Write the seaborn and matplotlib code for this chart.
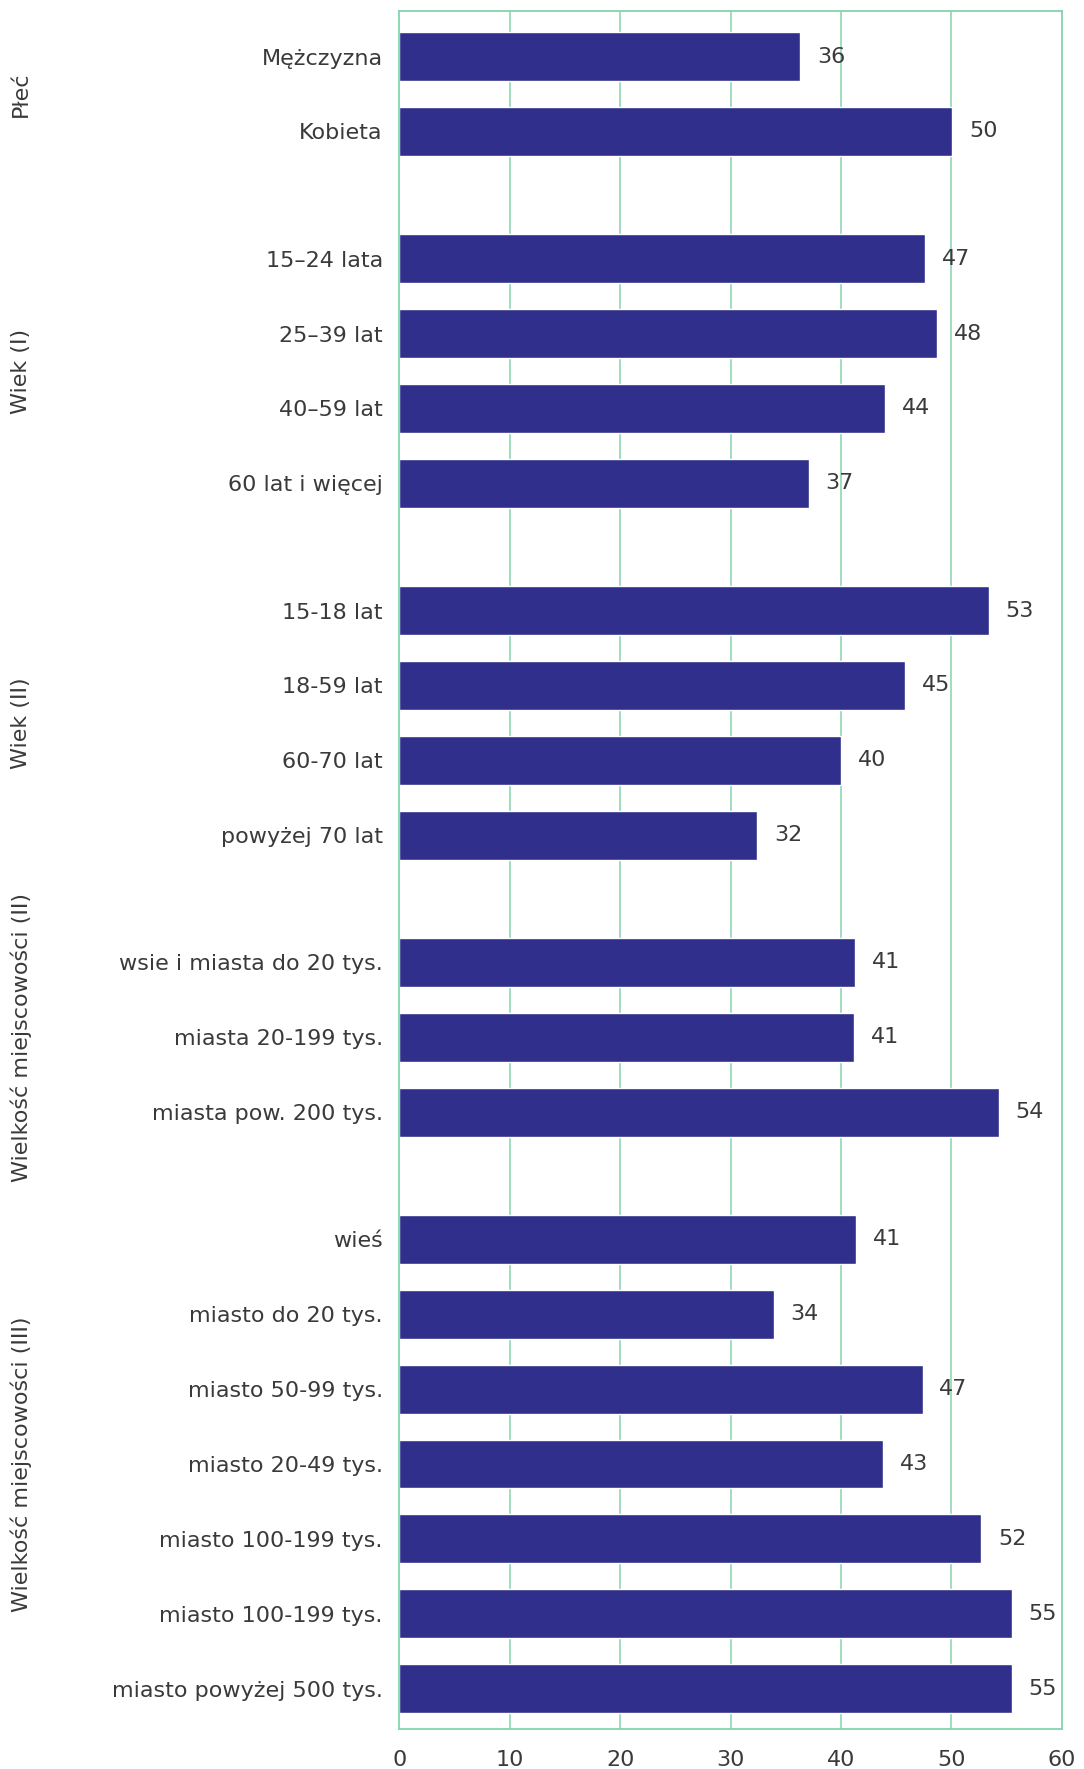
import numpy as np
import pandas as pd
import seaborn as sns
import matplotlib.pyplot as plt
import matplotlib.transforms as mtransforms

# data
categories = [
    "Mężczyzna", "Kobieta",
    "15–24 lata", "25–39 lat", "40–59 lat", "60 lat i więcej",
    "15-18 lat", "18-59 lat", "60-70 lat", "powyżej 70 lat",
    "wsie i miasta do 20 tys.", "miasta 20-199 tys.", "miasta pow. 200 tys.",
    "wieś", "miasto do 20 tys.", "miasto 50-99 tys.", "miasto 20-49 tys.",
    "miasto 100-199 tys.", "miasto 100-199 tys.", "miasto powyżej 500 tys.",
]
values = [36.3, 50.1,
          47.6, 48.7, 44.0, 37.1,
          53.4, 45.8, 40.0, 32.4,
          41.3, 41.2, 54.3,
          41.4, 33.9, 47.4, 43.8, 52.7, 55.5, 55.5]
value_labels = ["36", "50",
                "47", "48", "44", "37",
                "53", "45", "40", "32",
                "41", "41", "54",
                "41", "34", "47", "43", "52", "55", "55"]
group_names = ["Płeć", "Wiek (I)", "Wiek (II)",
               "Wielkość miejscowości (II)", "Wielkość miejscowości (III)"]
group_sizes = [2, 4, 4, 3, 7]
x_ticks = [0, 10, 20, 30, 40, 50, 60]

BAR = "#30308C"
GRID = "#86D3AE"
TEXT = "#3a3a3a"
GAP = 1.7
FS = 16

# row positions, with a wider step between groups
pos = []
y = 0.0
for n in group_sizes:
    for _ in range(n):
        pos.append(y)
        y += 1
    y += GAP - 1

df = pd.DataFrame({"pos": pos, "value": values})

sns.set_style("white")
plt.rcParams["font.family"] = ["DejaVu Sans"]

fig = plt.figure(figsize=(10.84, 17.69), dpi=100)
ax = fig.add_axes([0.3685, 0.0226, 0.611, 0.9712])

sns.barplot(data=df, x="value", y="pos", orient="h", native_scale=True,
            width=0.654, color=BAR, saturation=1, ax=ax)

ax.bar_label(ax.containers[0], labels=value_labels, padding=12,
             fontsize=FS, color=TEXT)

ax.set_xlim(0, 60)
ax.set_ylim(pos[-1] + 0.54, -0.61)
ax.set_xticks(x_ticks)
ax.set_yticks(pos)
ax.set_yticklabels(categories)
ax.set_xlabel("")
ax.set_ylabel("")
ax.tick_params(axis="both", length=0, labelsize=FS, labelcolor=TEXT)
ax.tick_params(axis="y", pad=12)
ax.tick_params(axis="x", pad=15)

ax.grid(False)
for x in x_ticks[1:-1]:
    ax.axvline(x, color=GRID, lw=1.1, zorder=0)
for s in ax.spines.values():
    s.set_visible(True)
    s.set_color(GRID)
    s.set_linewidth(1.3)

# group labels on the far left
tr = mtransforms.blended_transform_factory(fig.transFigure, ax.transData)
start = 0
for name, n in zip(group_names, group_sizes):
    mid = (pos[start] + pos[start + n - 1]) / 2
    ax.text(0.0195, mid, name, transform=tr, rotation=90, ha="center",
            va="center", fontsize=FS, color=TEXT)
    start += n

plt.savefig("out.png", dpi=100)
plt.close()
